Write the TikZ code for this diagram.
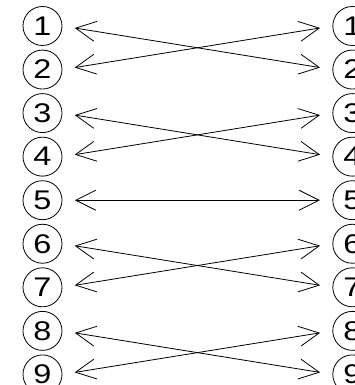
\documentclass[tikz,border=0pt]{standalone}
\usepackage{fontspec}
\setmainfont{Liberation Sans}
\newfontfamily\digitfont[FakeStretch=1.2]{Liberation Sans}
\usetikzlibrary{arrows.meta, positioning}

\begin{document}
\begin{tikzpicture}[
    x=1pt, y=-1pt,
    node distance=3.75pt,
    num/.style={circle, draw=black, line width=0.8pt, minimum size=39pt, inner sep=0pt, font=\digitfont\fontsize{27}{27}\selectfont},
    link/.style={line width=0.8pt, shorten <=12.5pt, shorten >=12.5pt, {Straight Barb[length=20pt,width=20pt]}-{Straight Barb[length=20pt,width=20pt]}}
]
    \useasboundingbox (0,0) rectangle (355,385);
    % left column
    \node[num] (L1) at (42.5,26) {1};
    \node[num, below=of L1] (L2) {2};
    \node[num, below=of L2] (L3) {3};
    \node[num, below=of L3] (L4) {4};
    \node[num, below=of L4] (L5) {5};
    \node[num, below=of L5] (L6) {6};
    \node[num, below=of L6] (L7) {7};
    \node[num, below=of L7] (L8) {8};
    \node[num, below=of L8] (L9) {9};
    % right column
    \node[num, right=270pt of L1] (R1) {1};
    \node[num, right=270pt of L2] (R2) {2};
    \node[num, right=270pt of L3] (R3) {3};
    \node[num, right=270pt of L4] (R4) {4};
    \node[num, right=270pt of L5] (R5) {5};
    \node[num, right=270pt of L6] (R6) {6};
    \node[num, right=270pt of L7] (R7) {7};
    \node[num, right=270pt of L8] (R8) {8};
    \node[num, right=270pt of L9] (R9) {9};
    % links
    \draw[link] (L1.east) -- (R2.west);
    \draw[link] (L2.east) -- (R1.west);
    \draw[link] (L3.east) -- (R4.west);
    \draw[link] (L4.east) -- (R3.west);
    \draw[link] (L5.east) -- (R5.west);
    \draw[link] (L6.east) -- (R7.west);
    \draw[link] (L7.east) -- (R6.west);
    \draw[link] (L8.east) -- (R9.west);
    \draw[link] (L9.east) -- (R8.west);
\end{tikzpicture}
\end{document}
